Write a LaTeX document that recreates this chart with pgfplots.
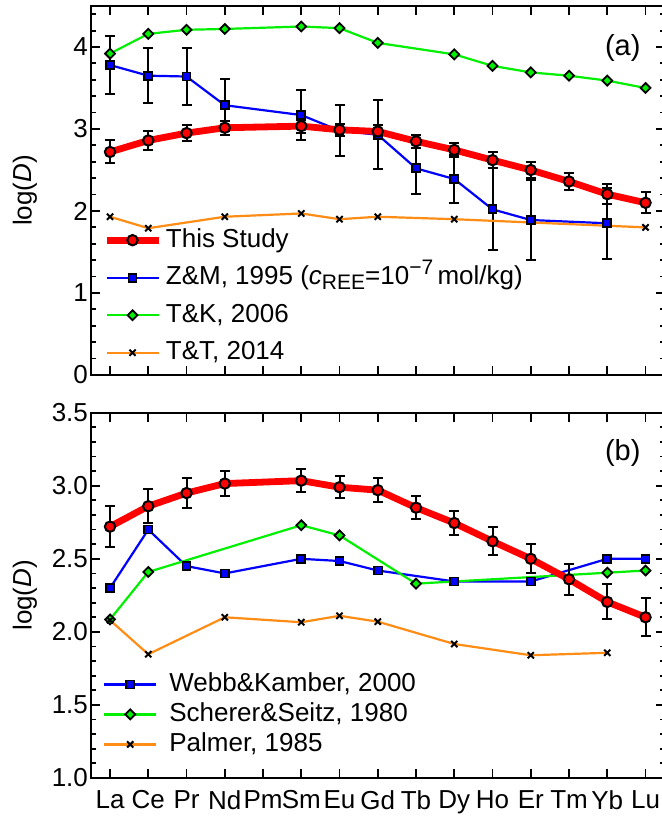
\documentclass[border=0pt]{standalone}
\usepackage{fontspec}
\setmainfont{Liberation Sans}
\usepackage{pgfplots}
\pgfplotsset{compat=1.18}

\definecolor{zmblue}{RGB}{0,0,255}
\definecolor{tkgreen}{RGB}{0,240,0}
\definecolor{ttorange}{RGB}{255,140,20}

\newcommand{\chartfont}{\fontsize{13}{15}\selectfont}
\newcommand{\smallfont}{\fontsize{10.5}{12}\selectfont}

\pgfplotsset{
  ree/.style={
    scale only axis, width=286.875pt,
    xmin=-0.5, xmax=14.5, xtick={0,...,14},
    tick align=inside, xtick pos=both, ytick pos=both,
    xticklabel pos=lower, yticklabel pos=left,
    major tick length=4.5pt, minor tick length=2.5pt,
    every tick/.style={black, line width=0.9pt},
    axis line style={line width=1pt},
    tick label style={font=\chartfont},
    /pgf/number format/assume math mode=true,
    yticklabel style={inner sep=1.3pt},
    label style={font=\chartfont},
    ylabel={log(\textit{D})},
    ylabel style={at={(axis description cs:-0.1149,0.5)}, anchor=center},
    legend cell align=left,
    legend image code/.code={\draw[mark repeat=2,mark phase=2,##1] plot coordinates {(0pt,0pt) (13pt,0pt) (26pt,0pt)};},
    legend style={draw=none, fill=none, inner sep=0pt, column sep=2pt,
      font=\chartfont, anchor=north west,
      nodes={inner sep=0pt, text height=10pt, text depth=3pt}},
  },
  thisstudy/.style={color=red, line width=3.4pt, mark=*, mark size=2.6pt,
    mark options={fill=red, draw=black, line width=1pt, solid}},
  bluesq/.style={color=zmblue, line width=1.1pt, mark=square*, mark size=2.0pt,
    mark options={fill=zmblue, draw=black, line width=0.9pt}},
  greendia/.style={color=tkgreen, line width=1.1pt, mark=square*, mark size=1.75pt,
    mark options={rotate=45, fill=tkgreen, draw=black, line width=0.9pt}},
  orangex/.style={color=ttorange, line width=1.1pt, mark=x, mark size=2.2pt,
    mark options={draw=black, line width=1pt}},
  withbars/.style={error bars/.cd, y dir=both, y explicit,
    error bar style={black, line width=1pt, solid},
    error mark options={rotate=90, black, line width=1pt, mark size=2.5pt}},
}

\begin{document}
\begin{tikzpicture}
% ---------------- panel (a) ----------------
\begin{axis}[ree,
  at={(0pt,201.5pt)}, anchor=south west,
  height=184.5pt, ymin=0, ymax=4.5, ytick={0,1,2,3,4},
  minor ytick={0,0.2,...,4.41},
  xticklabels={},
  legend style={at={(axis description cs:0.0206,0.4016)}, row sep=5.75pt},
]
\addlegendimage{thisstudy}
\addlegendentry{This Study}
% Zhang & Muller 1995, with uncertainties
\addplot[bluesq, withbars] coordinates {
  (0,3.78) +- (0,0.355)
  (1,3.65) +- (0,0.335)
  (2,3.64) +- (0,0.345)
  (3,3.29) +- (0,0.32)
  (5,3.17) +- (0,0.31)
  (6,2.98) +- (0,0.31)
  (7,2.93) +- (0,0.42)
  (8,2.52) +- (0,0.31)
  (9,2.39) +- (0,0.29)
  (10,2.02) +- (0,0.50)
  (11,1.89) +- (0,0.49)
  (13,1.85) +- (0,0.43)
};
\addlegendentry{Z\&M, 1995 (\textit{c}\raisebox{-2.6pt}{\smallfont REE}=10\raisebox{5pt}{\smallfont −7}\,mol/kg)}
\addplot[greendia] coordinates {
  (0,3.92) (1,4.16) (2,4.21) (3,4.22) (5,4.25) (6,4.23) (7,4.05)
  (9,3.91) (10,3.77) (11,3.69) (12,3.65) (13,3.59) (14,3.50)
};
\addlegendentry{T\&K, 2006}
\addplot[orangex] coordinates {
  (0,1.93) (1,1.79) (3,1.93) (5,1.97) (6,1.90) (7,1.93) (9,1.90) (14,1.80)
};
\addlegendentry{T\&T, 2014}
% this study, drawn last so it sits on top
\addplot[thisstudy, forget plot, withbars] coordinates {
  (0,2.72) +- (0,0.14)
  (1,2.86) +- (0,0.115)
  (2,2.95) +- (0,0.10)
  (3,3.015) +- (0,0.085)
  (5,3.035) +- (0,0.08)
  (6,2.99) +- (0,0.075)
  (7,2.97) +- (0,0.08)
  (8,2.85) +- (0,0.08)
  (9,2.745) +- (0,0.085)
  (10,2.62) +- (0,0.095)
  (11,2.50) +- (0,0.10)
  (12,2.36) +- (0,0.105)
  (13,2.205) +- (0,0.12)
  (14,2.10) +- (0,0.13)
};
\node[font=\fontsize{14.5}{16}\selectfont] at (axis description cs:0.927,0.886) {(a)};
\end{axis}

% ---------------- panel (b) ----------------
\begin{axis}[ree,
  at={(0pt,0pt)}, anchor=south west,
  height=182.65pt, ymin=1, ymax=3.5, ytick={1,1.5,...,3.5},
  minor ytick={1,1.1,...,3.51},
  yticklabel style={/pgf/number format/.cd, fixed, fixed zerofill, precision=1},
  xticklabels={La,Ce,Pr,Nd,Pm,Sm,Eu,Gd,Tb,Dy,Ho,Er,Tm,Yb,Lu},
  xticklabel style={yshift=-2.8pt},
  legend style={at={(axis description cs:0.0206,0.2929)}, row sep=2pt, column sep=6pt},
]
\addplot[bluesq] coordinates {
  (0,2.30) (1,2.70) (2,2.45) (3,2.40) (5,2.50) (6,2.485) (7,2.42)
  (9,2.345) (11,2.345) (13,2.50) (14,2.50)
};
\addlegendentry{Webb\&Kamber, 2000}
\addplot[greendia] coordinates {
  (0,2.085) (1,2.41) (5,2.73) (6,2.66) (8,2.33) (13,2.405) (14,2.42)
};
\addlegendentry{Scherer\&Seitz, 1980}
\addplot[orangex] coordinates {
  (0,2.08) (1,1.847) (3,2.10) (5,2.066) (6,2.11) (7,2.07) (9,1.917) (11,1.84) (13,1.857)
};
\addlegendentry{Palmer, 1985}
\addplot[thisstudy, forget plot, withbars] coordinates {
  (0,2.72) +- (0,0.14)
  (1,2.86) +- (0,0.115)
  (2,2.95) +- (0,0.10)
  (3,3.015) +- (0,0.085)
  (5,3.035) +- (0,0.08)
  (6,2.99) +- (0,0.075)
  (7,2.97) +- (0,0.08)
  (8,2.85) +- (0,0.08)
  (9,2.745) +- (0,0.085)
  (10,2.62) +- (0,0.095)
  (11,2.50) +- (0,0.10)
  (12,2.36) +- (0,0.105)
  (13,2.205) +- (0,0.12)
  (14,2.10) +- (0,0.13)
};
\node[font=\fontsize{14.5}{16}\selectfont] at (axis description cs:0.927,0.890) {(b)};
\end{axis}
\pgfresetboundingbox
\useasboundingbox (-45.45pt,-20.5pt) rectangle (285.05pt,389pt);
\end{tikzpicture}
\end{document}
